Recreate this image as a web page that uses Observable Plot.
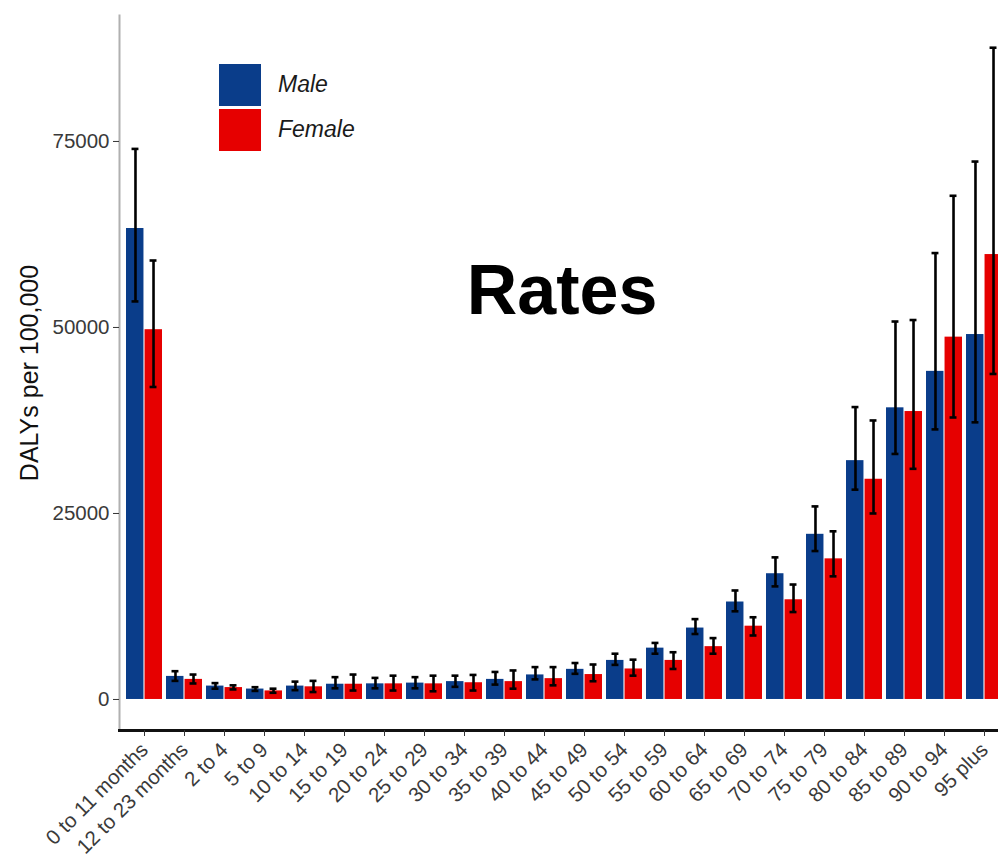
<!DOCTYPE html>
<html>
<head>
<meta charset="utf-8">
<script src="https://cdn.jsdelivr.net/npm/d3@7"></script>
<script src="https://cdn.jsdelivr.net/npm/@observablehq/plot@0.6"></script>
<style>
  html, body { margin: 0; padding: 0; background: #fff; overflow: hidden; }
  #wrap { position: relative; width: 998px; height: 857px; overflow: hidden; font-family: "Liberation Sans", Arial, sans-serif; }
  #chart { position: absolute; left: 0; top: 0; width: 1012px; }
  #chart svg { max-width: none !important; width: 1012px; height: 857px; }
  .legend { position: absolute; left: 219px; top: 62px; }
  .legend .row { display: flex; align-items: center; height: 45px; }
  .legend .sw { width: 42px; height: 42px; margin-right: 17px; }
  .legend .lab { font-style: italic; font-size: 23px; color: #1a1a1a; }
  .rates { position: absolute; left: 462px; top: 250px; width: 200px; text-align: center; font-weight: bold; font-size: 70px; color: #000; font-family: "Liberation Sans", Arial, sans-serif; }
</style>
</head>
<body>
<div id="wrap">
  <div id="chart"></div>
  <div class="legend">
    <div class="row"><div class="sw" id="swM"></div><div class="lab">Male</div></div>
    <div class="row"><div class="sw" id="swF"></div><div class="lab">Female</div></div>
  </div>
  <div class="rates">Rates</div>
</div>
<script>
const ages = ["0 to 11 months","12 to 23 months","2 to 4","5 to 9","10 to 14","15 to 19","20 to 24","25 to 29","30 to 34","35 to 39","40 to 44","45 to 49","50 to 54","55 to 59","60 to 64","65 to 69","70 to 74","75 to 79","80 to 84","85 to 89","90 to 94","95 plus"];
const sexes = ["Male", "Female"];
const maleRate = [63300,3100,1800,1400,1800,2050,2100,2200,2400,2700,3300,4050,5250,6900,9600,13100,16900,22200,32100,39200,44100,49050];
const maleLo   = [53500,2500,1450,1150,1250,1500,1500,1500,1700,2000,2700,3450,4650,6150,8800,11850,15200,19950,28200,33000,36300,37250];
const maleHi   = [74000,3800,2200,1650,2400,3000,2900,3000,3200,3700,4350,4900,6150,7600,10800,14650,19100,25950,39300,50800,60000,72300];
const femaleRate = [49700,2700,1600,1150,1700,2050,2100,2100,2250,2400,2800,3350,4100,5250,7100,9850,13400,18900,29600,38700,48700,59800];
const femaleLo   = [42000,2150,1350,900,1000,1200,1200,1100,1200,1450,1900,2450,3200,4100,6150,8600,11750,16550,25000,31000,37900,43750];
const femaleHi   = [59000,3350,1900,1450,2500,3350,3200,3200,3300,3900,4350,4700,5350,6350,8250,11050,15450,22600,37500,51000,67700,87600];
const yTicks = [0, 25000, 50000, 75000];
const colors = ["#0a3d8a", "#e60000"];

document.getElementById("swM").style.background = colors[0];
document.getElementById("swF").style.background = colors[1];

const male = ages.map((a, i) => ({age: a, sex: "Male", v: maleRate[i], lo: maleLo[i], hi: maleHi[i]}));
const female = ages.map((a, i) => ({age: a, sex: "Female", v: femaleRate[i], lo: femaleLo[i], hi: femaleHi[i]}));

const W = 1012, H = 857, mL = 119, mR = 3, mT = 15, mB = 127;
const xOpts = {type: "band", domain: ages, range: [mL, W - mR], paddingInner: 0.1, paddingOuter: 0.15};
const bw = Plot.scale({x: xOpts}).bandwidth;
const cap = 3.5;

const plot = Plot.plot({
  width: W, height: H,
  marginLeft: mL, marginRight: mR, marginTop: mT, marginBottom: mB,
  style: {fontFamily: "Liberation Sans, Arial, sans-serif", background: "#fff", maxWidth: "none"},
  x: {domain: ages, paddingInner: 0.1, paddingOuter: 0.15},
  y: {domain: [-4170, 91930]},
  color: {domain: sexes, range: colors},
  marks: [
    Plot.barY(male, {x: "age", y: "v", fill: colors[0], insetLeft: 0, insetRight: bw / 2 + 0.5}),
    Plot.barY(female, {x: "age", y: "v", fill: colors[1], insetLeft: bw / 2 + 0.5, insetRight: 0}),
    Plot.ruleX(male, {x: "age", y1: "lo", y2: "hi", dx: -bw / 4, stroke: "#000", strokeWidth: 2.6}),
    Plot.ruleX(female, {x: "age", y1: "lo", y2: "hi", dx: bw / 4, stroke: "#000", strokeWidth: 2.6}),
    Plot.tickY(male, {x: "age", y: "lo", insetLeft: bw / 4 - cap, insetRight: 3 * bw / 4 - cap, stroke: "#000", strokeWidth: 2.6}),
    Plot.tickY(male, {x: "age", y: "hi", insetLeft: bw / 4 - cap, insetRight: 3 * bw / 4 - cap, stroke: "#000", strokeWidth: 2.6}),
    Plot.tickY(female, {x: "age", y: "lo", insetLeft: 3 * bw / 4 - cap, insetRight: bw / 4 - cap, stroke: "#000", strokeWidth: 2.6}),
    Plot.tickY(female, {x: "age", y: "hi", insetLeft: 3 * bw / 4 - cap, insetRight: bw / 4 - cap, stroke: "#000", strokeWidth: 2.6}),
    Plot.frame({anchor: "left", stroke: "#b0b0b0", strokeWidth: 2}),
    Plot.frame({anchor: "bottom", stroke: "#111", strokeWidth: 3}),
    Plot.axisY({ticks: yTicks, tickFormat: d => String(d), tickSize: 6, tickPadding: 4, fontSize: 20.5, fill: "#3a3a3a", stroke: "#333", label: null}),
    Plot.axisY({ticks: [], label: "DALYs per 100,000", labelAnchor: "center", labelOffset: 99, labelArrow: "none", fontSize: 25, fill: "#111"}),
    Plot.axisX({tickRotate: -45, tickSize: 6, tickPadding: 10, fontSize: 20.5, fill: "#3a3a3a", stroke: "#333", label: null})
  ]
});
document.getElementById("chart").appendChild(plot);
</script>
</body>
</html>
